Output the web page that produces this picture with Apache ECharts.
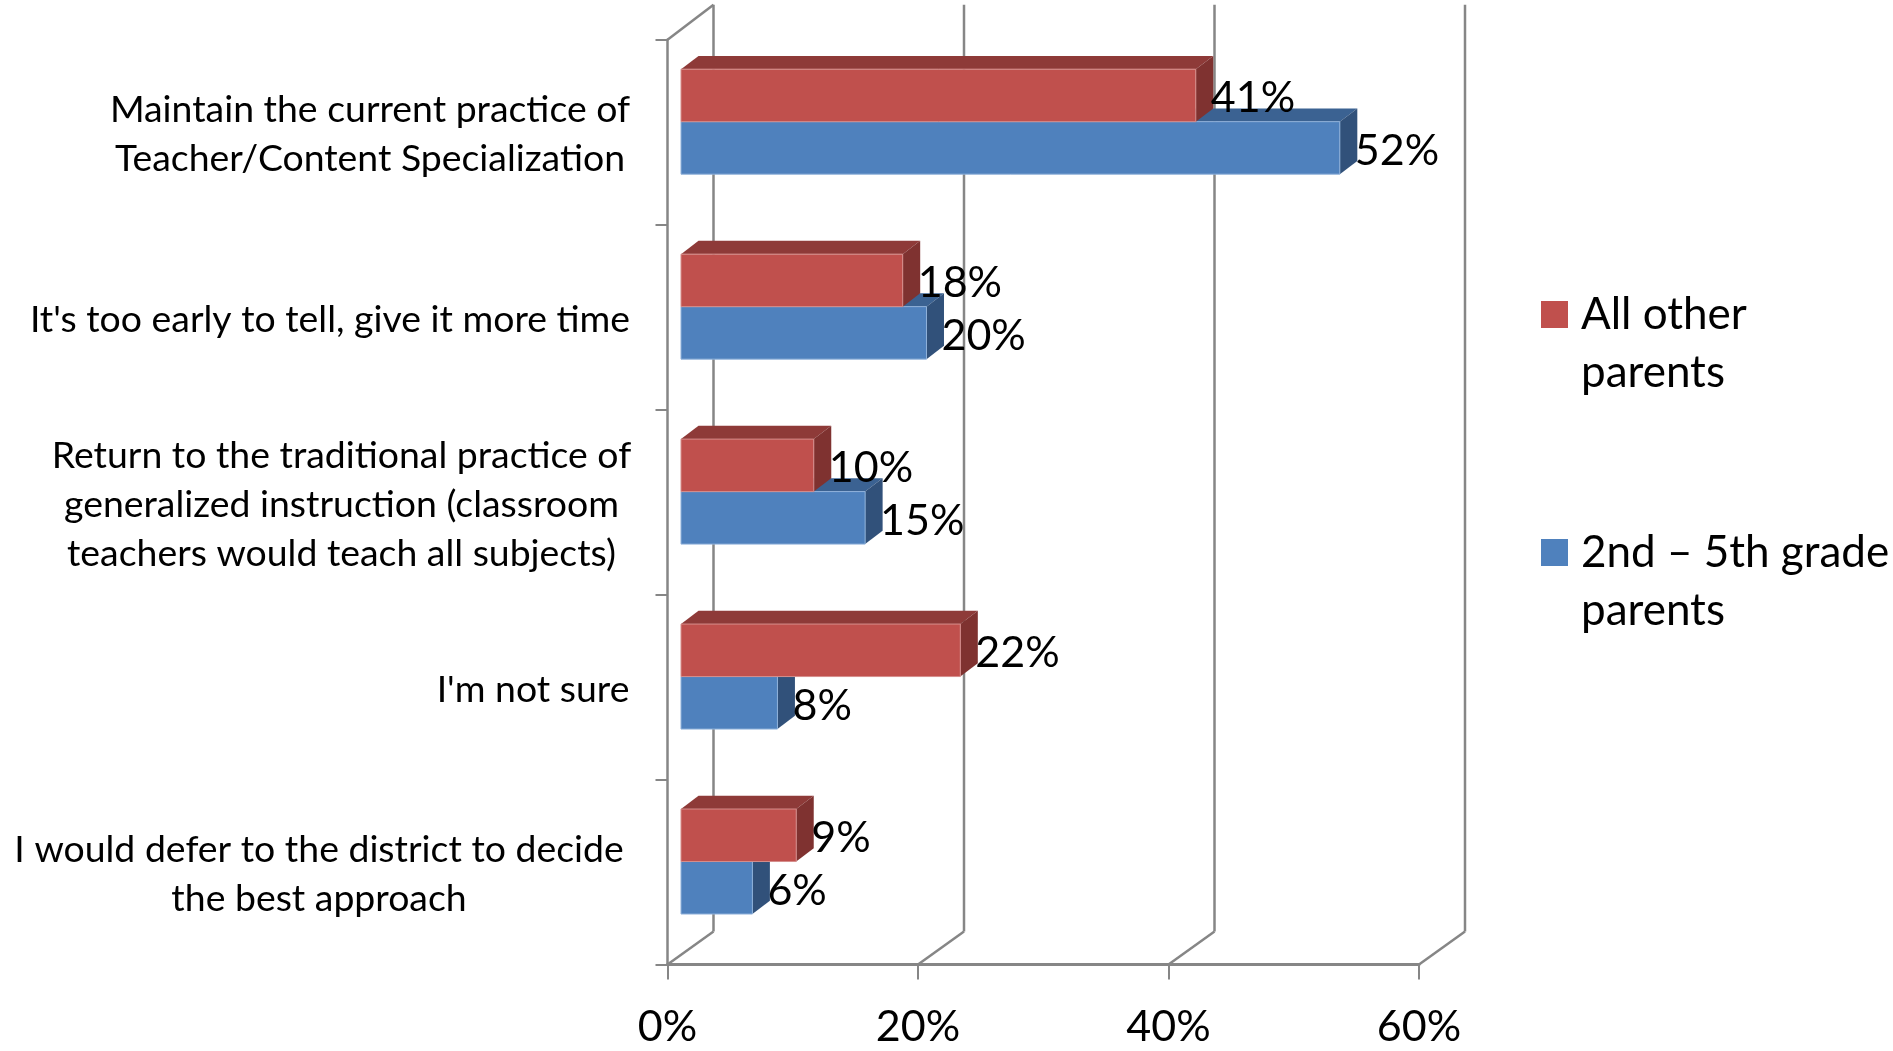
<!DOCTYPE html>
<html>
<head>
<meta charset="utf-8">
<style>html,body{margin:0;padding:0;background:#fff}#c{width:1893px;height:1051px}</style>
<script src="https://cdn.jsdelivr.net/npm/echarts@6/dist/echarts.min.js"></script>
</head>
<body>
<div id="c"></div>
<script>
const categoryLines = [
  ["Maintain the current practice of", "Teacher/Content Specialization"],
  ["It's too early to tell, give it more time"],
  ["Return to the traditional practice of", "generalized instruction (classroom", "teachers would teach all subjects)"],
  ["I'm not sure"],
  ["I would defer to the district to decide", "the best approach"]
];
const categories = categoryLines.map(l => l.join(" "));
const seriesRedName = "All other parents";
const seriesBlueName = "2nd \u2013 5th grade parents";
const redValues = [41.1, 17.7, 10.6, 22.3, 9.2];
const blueValues = [52.6, 19.6, 14.7, 7.7, 5.7];
const redLabels = ["41%", "18%", "10%", "22%", "9%"];
const blueLabels = ["52%", "20%", "15%", "8%", "6%"];
const xTicks = [0, 20, 40, 60];

const FONT = "Lato";
const wallColor = "#868686";
const blockWidths = [520, 600, 577, 194, 622];
const barDepth = [17.5, 13.3], wallDepth = [46, 33], wallTopExtra = 2;
const barThick = 52.5, barInset = 13.5;

function wallItem(params, api) {
  const v = api.value(0);
  const p = api.coord([v, categories[4]]);
  const sys = params.coordSys;
  const bottom = sys.y + sys.height, top = sys.y;
  const x = p[0];
  const st = {stroke: wallColor, lineWidth: 2.5, fill: null};
  const kids = [
    {type: "line", shape: {x1: x, y1: bottom, x2: x + wallDepth[0], y2: bottom - wallDepth[1]}, style: st},
    {type: "line", shape: {x1: x + wallDepth[0], y1: bottom - wallDepth[1], x2: x + wallDepth[0], y2: top - wallDepth[1] - wallTopExtra}, style: st}
  ];
  if (v === 0) kids.push({type: "line", shape: {x1: x, y1: top, x2: x + wallDepth[0], y2: top - wallDepth[1] - wallTopExtra}, style: st});
  return {type: "group", children: kids};
}

function barRenderer(slot, front, topC, side, edge, labels) {
  return function (params, api) {
    const i = params.dataIndex;
    const p = api.coord([api.value(0), api.value(1)]);
    const o = api.coord([0, api.value(1)]);
    const x0 = o[0] + barInset, x1 = p[0] + barInset;
    const y0 = o[1] - 10.5 + (slot - 2) * barThick, y1 = y0 + barThick;
    const dx = barDepth[0], dy = barDepth[1];
    return {type: "group", children: [
      {type: "polygon", shape: {points: [[x0, y0], [x0 + dx, y0 - dy], [x1 + dx, y0 - dy], [x1, y0]]}, style: {fill: topC}},
      {type: "polygon", shape: {points: [[x1, y0], [x1 + dx, y0 - dy], [x1 + dx, y1 - dy], [x1, y1]]}, style: {fill: side}},
      {type: "rect", shape: {x: x0, y: y0, width: x1 - x0, height: barThick}, style: {fill: front, stroke: edge, lineWidth: 1}},
      {type: "text", z2: 50, style: {text: labels[i], x: x1 + 15, y: (y0 + y1) / 2 + 3, fontFamily: FONT, fontSize: 43, fill: "#000", textAlign: "left", verticalAlign: "middle"}}
    ]};
  };
}

const rich = {};
blockWidths.forEach((w, i) => { rich["b" + i] = {width: w, align: "center", fontFamily: FONT, fontSize: 37.4, lineHeight: 49, color: "#000"}; });

const option = {
  animation: false,
  backgroundColor: "#fff",
  grid: {left: 667.5, top: 39.7, width: 751.5, height: 924.8, containLabel: false},
  legend: {
    left: 1541, top: 227.5, orient: "vertical", icon: "rect", padding: 0,
    itemWidth: 27, itemHeight: 27, itemGap: 64, selectedMode: false,
    data: [seriesRedName, seriesBlueName],
    formatter: n => n === seriesRedName ? "\nAll other\nparents" : "\n2nd \u2013 5th grade\nparents",
    textStyle: {fontFamily: FONT, fontSize: 44, lineHeight: 58, color: "#000", padding: [0, 0, 0, 8]}
  },
  xAxis: {
    type: "value", min: 0, max: 60, interval: 20,
    splitLine: {show: false},
    axisLine: {show: true, lineStyle: {color: wallColor, width: 3}},
    axisTick: {show: true, length: 15, lineStyle: {color: wallColor, width: 2}},
    axisLabel: {formatter: "{value}%", fontFamily: FONT, fontSize: 43, color: "#000", margin: 41}
  },
  yAxis: {
    type: "category", inverse: true, data: categories,
    axisLine: {show: true, lineStyle: {color: wallColor, width: 2.5}},
    axisTick: {show: true, length: 12, lineStyle: {color: wallColor, width: 2}},
    axisLabel: {
      interval: 0, margin: 37.5, align: "right", rich: rich, padding: [5, 0, 0, 0],
      formatter: (v, idx) => categoryLines[idx].map(l => "{b" + idx + "|" + l + "}").join("\n")
    }
  },
  series: [
    {type: "custom", name: "wall", silent: true, z: 1, clip: false, coordinateSystem: "cartesian2d",
      data: xTicks.map(t => [t]), encode: {x: 0}, renderItem: wallItem},
    {type: "custom", name: seriesBlueName, z: 2, clip: false, itemStyle: {color: "#4F81BD"},
      data: blueValues.map((v, i) => [v, categories[i]]), encode: {x: 0, y: 1},
      renderItem: barRenderer(2, "#4F81BD", "#3B6292", "#31517A", "#8FB1DA", blueLabels)},
    {type: "custom", name: seriesRedName, z: 3, clip: false, itemStyle: {color: "#C0504D"},
      data: redValues.map((v, i) => [v, categories[i]]), encode: {x: 0, y: 1},
      renderItem: barRenderer(1, "#C0504D", "#8E3A38", "#7F3230", "#D58E8C", redLabels)}
  ]
};
echarts.init(document.getElementById("c"), null, {renderer: "canvas"}).setOption(option);
</script>
</body>
</html>
